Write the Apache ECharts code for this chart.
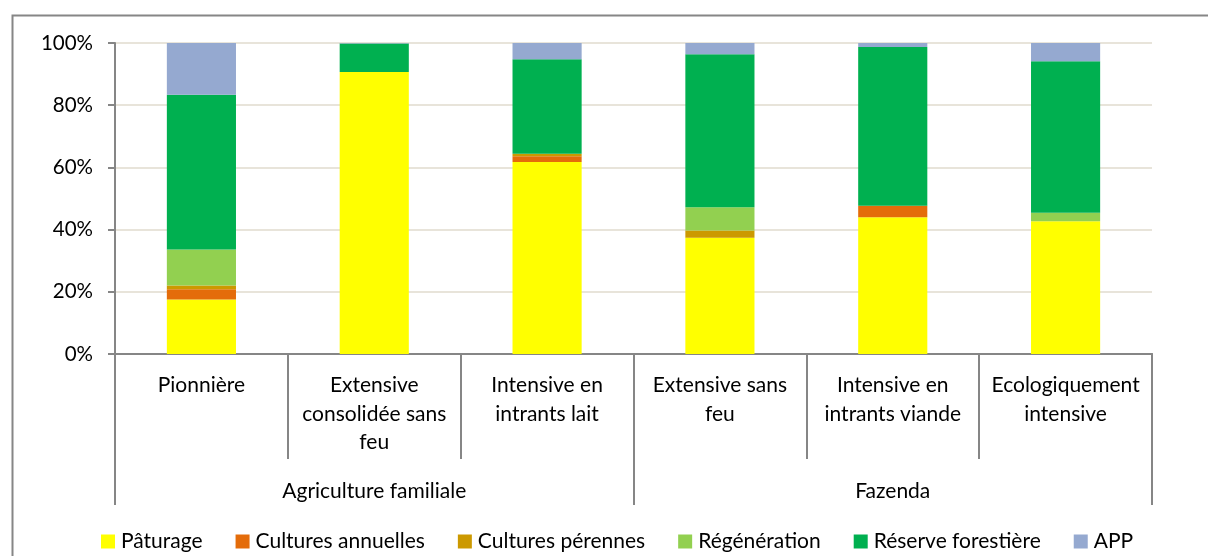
<!DOCTYPE html>
<html>
<head>
<meta charset="utf-8">
<script src="https://cdn.jsdelivr.net/npm/echarts@6/dist/echarts.min.js"></script>
<style>html,body{margin:0;padding:0;background:#fff}#c{width:1208px;height:556px}</style>
</head>
<body>
<div id="c"></div>
<script>
const categories = ['Pionnière', 'Extensive\nconsolidée sans\nfeu', 'Intensive en\nintrants lait', 'Extensive sans\nfeu', 'Intensive en\nintrants viande', 'Ecologiquement\nintensive'];
const groups = ['Agriculture familiale', 'Fazenda'];
const yTicks = [0, 20, 40, 60, 80, 100];
const seriesNames = ['Pâturage', 'Cultures annuelles', 'Cultures pérennes', 'Régénération', 'Réserve forestière', 'APP'];
const paturage = [17.5, 90.7, 61.7, 37.4, 44.0, 42.7];
const culturesAnnuelles = [3.3, 0, 1.9, 0, 3.7, 0];
const culturesPerennes = [1.2, 0, 0.8, 2.3, 0, 0];
const regeneration = [11.6, 0, 0, 7.5, 0, 2.7];
const reserveForestiere = [49.8, 9.1, 30.4, 49.2, 51.0, 48.7];
const app = [16.6, 0.2, 5.2, 3.6, 1.3, 5.9];

const values = [paturage, culturesAnnuelles, culturesPerennes, regeneration, reserveForestiere, app];
const colors = ['#FFFF00', '#E46C0A', '#CC9900', '#92D050', '#00B050', '#95A9D0'];
const FONT = 'Lato';
const chart = echarts.init(document.getElementById('c'));
chart.setOption({
  animation: false,
  textStyle: { fontFamily: FONT },
  graphic: [{
    type: 'rect', left: 10, top: 13, silent: true,
    shape: { width: 1230, height: 600 },
    style: { fill: 'none', stroke: '#868686', lineWidth: 2 }
  }],
  grid: { left: 115, right: 56, top: 43, bottom: 202 },
  legend: {
    left: 96, top: 526, itemWidth: 14, itemHeight: 14, itemGap: 33,
    icon: 'rect',
    data: seriesNames,
    textStyle: { fontFamily: FONT, fontSize: 21, color: '#000', padding: [0, 0, 0, 1] }
  },
  xAxis: [{
    type: 'category', data: categories, position: 'bottom',
    axisLine: { lineStyle: { color: '#868686', width: 2 } },
    axisTick: { show: true, length: 105, lineStyle: { color: '#868686', width: 2 } },
    axisLabel: { margin: 17, fontSize: 21, lineHeight: 28.5, color: '#000', fontFamily: FONT, interval: 0 }
  }, {
    type: 'category', data: groups, position: 'bottom',
    axisLine: { lineStyle: { color: '#868686', width: 2 } },
    axisTick: { show: true, length: 151, lineStyle: { color: '#868686', width: 2 } },
    axisLabel: { margin: 123, fontSize: 21, lineHeight: 28, color: '#000', fontFamily: FONT, interval: 0 }
  }],
  yAxis: {
    type: 'value', min: 0, max: 100, interval: 20,
    axisLine: { show: true, lineStyle: { color: '#868686', width: 2 } },
    axisTick: { show: true, length: 7, lineStyle: { color: '#868686', width: 2 } },
    axisLabel: { formatter: '{value}%', margin: 22, fontSize: 20.5, color: '#000', fontFamily: FONT },
    splitLine: { lineStyle: { color: '#E8E4DA', width: 2 } }
  },
  series: seriesNames.map((n, i) => ({
    name: n, type: 'bar', stack: 'total', barWidth: '40%',
    itemStyle: { color: colors[i] },
    data: values[i]
  }))
});
</script>
</body>
</html>
